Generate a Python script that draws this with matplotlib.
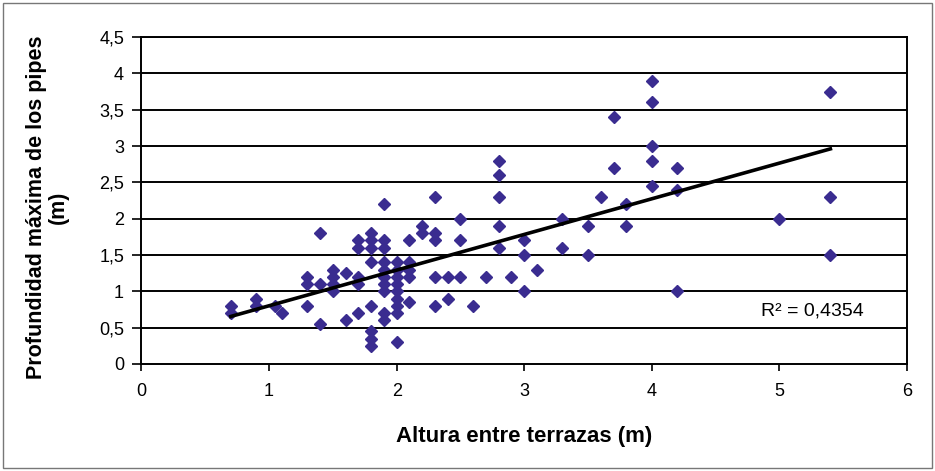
import numpy as np
import matplotlib.pyplot as plt
from matplotlib.patches import Rectangle
from matplotlib.ticker import FuncFormatter

plt.rcParams['font.family'] = ['Liberation Sans', 'DejaVu Sans']

# altura entre terrazas (m) -> profundidad maxima de los pipes (m), por columnas
cols = {
    0.7: [0.8, 0.7],
    0.9: [0.9, 0.8],
    1.05: [0.8],
    1.1: [0.7],
    1.3: [1.2, 1.1, 0.8],
    1.4: [1.8, 1.1, 0.55],
    1.5: [1.3, 1.2, 1.1, 1.0],
    1.6: [1.25, 0.6],
    1.7: [1.7, 1.6, 1.2, 1.1, 0.7],
    1.8: [1.8, 1.7, 1.6, 1.4, 0.8, 0.45, 0.35, 0.25],
    1.9: [2.2, 1.7, 1.6, 1.4, 1.3, 1.2, 1.1, 1.0, 0.7, 0.6],
    2.0: [1.4, 1.3, 1.2, 1.1, 1.0, 0.9, 0.8, 0.7, 0.3],
    2.1: [1.7, 1.4, 1.3, 1.2, 0.85],
    2.2: [1.9, 1.8],
    2.3: [2.3, 1.8, 1.7, 1.2, 0.8],
    2.4: [1.2, 0.9],
    2.5: [2.0, 1.7, 1.2],
    2.6: [0.8],
    2.7: [1.2],
    2.8: [2.8, 2.6, 2.3, 1.9, 1.6],
    2.9: [1.2],
    3.0: [1.7, 1.5, 1.0],
    3.1: [1.3],
    3.3: [2.0, 1.6],
    3.5: [1.9, 1.5],
    3.6: [2.3],
    3.7: [3.4, 2.7],
    3.8: [2.2, 1.9],
    4.0: [3.9, 3.6, 3.0, 2.8, 2.45],
    4.2: [2.7, 2.4, 1.0],
    5.0: [2.0],
    5.4: [3.75, 2.3, 1.5],
}
altura = np.array([k for k, v in cols.items() for _ in v])
profundidad = np.array([y for v in cols.values() for y in v])

r2_label = 'R² = 0,4354'

fig = plt.figure(figsize=(9.35, 4.71), dpi=100)
fig.patches.append(Rectangle((0.003, 0.006), 0.994, 0.988, transform=fig.transFigure,
                             fill=False, edgecolor='#777777', lw=1))
ax = fig.add_axes([0.1513, 0.2272, 0.8187, 0.6942])

for y in np.arange(0.5, 4.51, 0.5):
    ax.axhline(y, color='black', lw=1.4, zorder=1)

ax.plot(altura, profundidad, 'D', color='#3a2c90', ms=6.3, mec='#3a2c90', zorder=3)

a, b = np.polyfit(altura, profundidad, 1)
xs = np.array([altura.min(), altura.max()])
ax.plot(xs, a * xs + b, color='black', lw=2.6, zorder=4)

ax.text(5.26, 0.73, r2_label, fontsize=14, ha='center', va='center')

ax.set_xlim(0, 6)
ax.set_ylim(0, 4.5)
ax.set_xticks(range(7))
ax.set_yticks(np.arange(0, 4.51, 0.5))
fmt = FuncFormatter(lambda v, p: ('%g' % v).replace('.', ','))
ax.xaxis.set_major_formatter(fmt)
ax.yaxis.set_major_formatter(fmt)
ax.tick_params(labelsize=13, width=1.2, direction='out')
ax.tick_params(axis='x', length=5, pad=9)
ax.tick_params(axis='y', length=6.5, pad=6)
for s in ax.spines.values():
    s.set_linewidth(1.4)

ax.set_xlabel('Altura entre terrazas (m)', fontsize=16, fontweight='bold', va='center')
ax.xaxis.set_label_coords(0.5, -0.223)
ax.set_ylabel('Profundidad máxima de los pipes\n(m)', fontsize=15.5, fontweight='bold',
              linespacing=1.05, va='center')
ax.yaxis.set_label_coords(-0.123, 0.479)

fig.savefig('out.png', dpi=100)
